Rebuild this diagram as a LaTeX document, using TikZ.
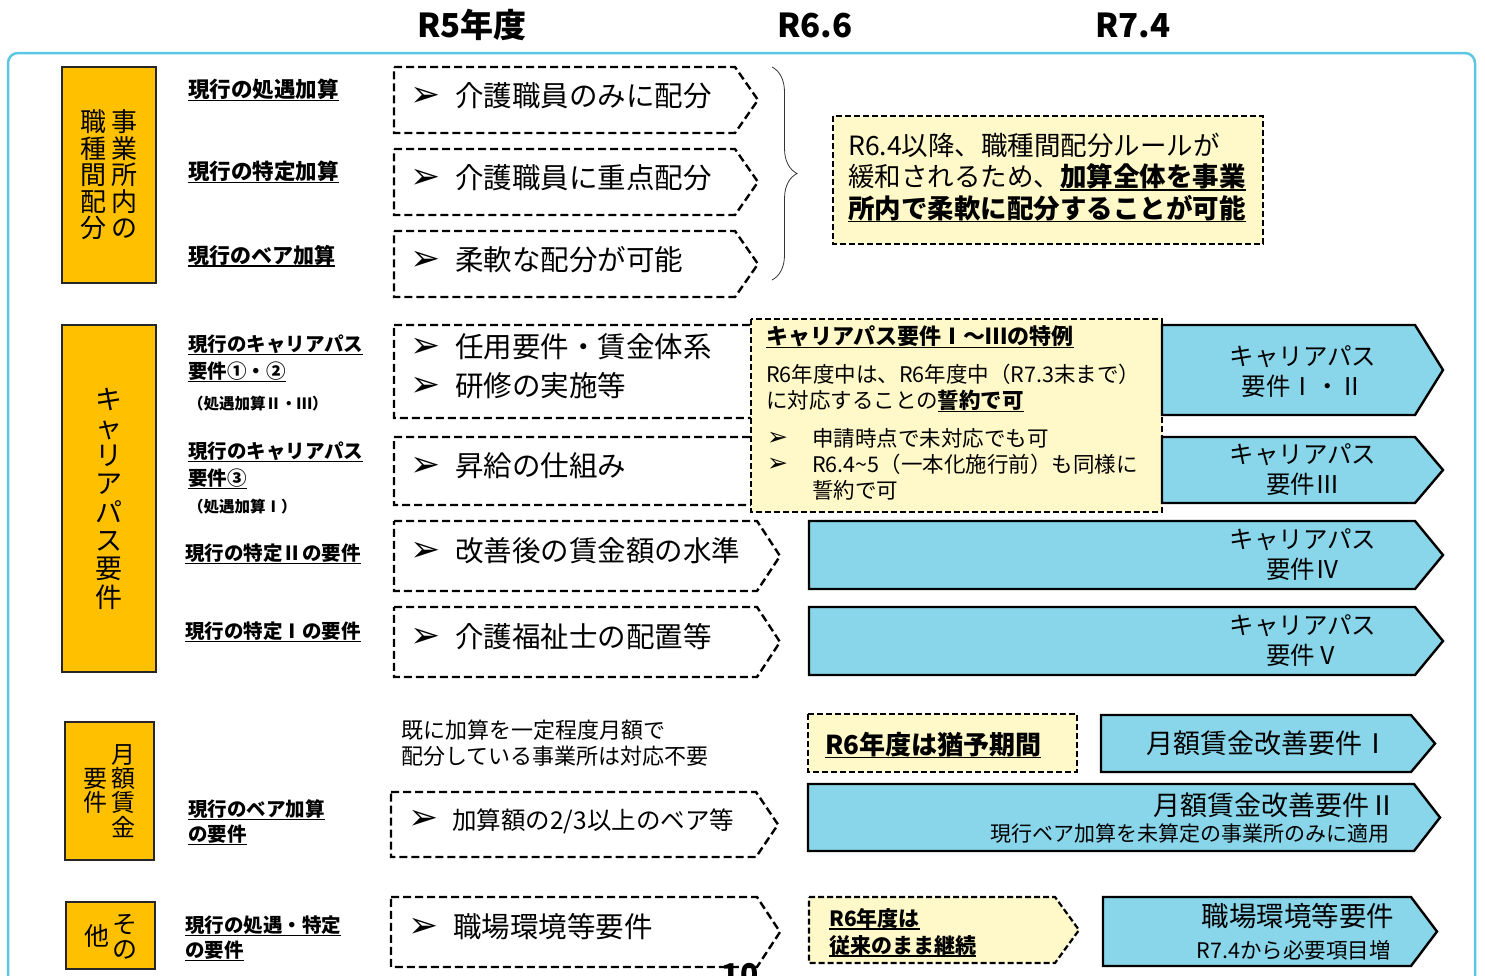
\documentclass[tikz,border=0pt]{standalone}
\usepackage{fontspec}
\setmainfont{Noto Sans CJK JP}
\newfontfamily\symfont{DejaVu Sans}
\usetikzlibrary{decorations.pathreplacing}

\definecolor{catorange}{HTML}{FFC000}
\definecolor{newblue}{HTML}{89D6EA}
\definecolor{noteyellow}{HTML}{FFF9C9}
\definecolor{framecyan}{HTML}{5BC7E4}

\newcommand{\setfs}[2]{\fontsize{#1}{#2}\selectfont}
\newsavebox\undlbox
\newcommand{\undl}[1]{\sbox\undlbox{#1}\rlap{\rule[-4pt]{\wd\undlbox}{1.6pt}}\usebox\undlbox}
\newcommand{\bul}[1]{\makebox[#1][l]{\raisebox{0pt}[0pt][0pt]{\symfont\fontsize{36}{36}\selectfont ➢}}}
\newcommand{\buls}{\makebox[45pt][l]{\raisebox{1pt}[0pt][0pt]{\symfont\fontsize{25}{25}\selectfont ➢}}}
% pentagon box: style, x1, y1, x2, y2, tip depth
\newcommand{\tagpath}[6]{\draw[#1] (#2,#3) -- ({#4-#6},#3) -- (#4,{(#3+#5)/2}) -- ({#4-#6},#5) -- (#2,#5) -- cycle;}

\tikzset{
	catbox/.style	= {draw = black!85, line width = 1.3pt, fill = catorange, inner sep = 0pt, align = center},
	oldlbl/.style	= {anchor = west, align = left, inner sep = 0pt, font = \bfseries\setfs{19.5}{27}},
	oldshape/.style	= {draw = black, line width = 2.4pt, dash pattern = on 8pt off 4pt, fill = white},
	newshape/.style	= {draw = black, line width = 2.4pt, fill = newblue},
	noteshape/.style	= {draw = black, line width = 2.2pt, dash pattern = on 6pt off 3pt, fill = noteyellow},
	bodytxt/.style	= {anchor = west, align = left, inner sep = 0pt},
	newtxt/.style	= {align = center, inner sep = 0pt},
	headtxt/.style	= {inner sep = 0pt, font = \bfseries\setfs{33}{36}},
}

\begin{document}
\begin{tikzpicture}[x=1pt, y=-1pt]
	\useasboundingbox (0,0) rectangle (1485,975);

	% column heads
	\node (hR5)  at ( 472, 25)	[headtxt]	{R5年度};
	\node (hR66) at ( 815, 25)	[headtxt]	{R6.6};
	\node (hR74) at (1133, 25)	[headtxt]	{R7.4};

	\draw[framecyan, line width = 2.5pt, rounded corners = 10pt] (8,53) rectangle (1475,1015);

	% categories
	\node (cat1) at (109, 175)	[catbox, minimum width = 94, minimum height = 216, font = \setfs{26}{26.5}]	{職\hspace{6pt}事\\種\hspace{6pt}業\\間\hspace{6pt}所\\配\hspace{6pt}内\\分\hspace{6pt}の};
	\node (cat2) at (109, 498.5)	[catbox, minimum width = 94, minimum height = 347, font = \setfs{27}{28.3}]	{キ\\ャ\\リ\\ア\\パ\\ス\\要\\件};
	\node (cat3) at (109.5, 791)	[catbox, minimum width = 89, minimum height = 138, font = \setfs{24}{24.3}]	{\phantom{要}\hspace{4pt}月\\要\hspace{4pt}額\\件\hspace{4pt}賃\\\phantom{要}\hspace{4pt}金};
	\node (cat4) at (110.5, 935.5)	[catbox, minimum width = 89, minimum height = 67, font = \setfs{25}{25}]	{\phantom{他}\hspace{3pt}そ\\\raisebox{12.5pt}[0pt][0pt]{他}\hspace{3pt}の};

	% current additions
	\node (lblShogu)   at (188, 90)	[oldlbl, font = \bfseries\setfs{21.5}{27}]	{\undl{現行の処遇加算}};
	\node (lblTokutei) at (188, 172)	[oldlbl, font = \bfseries\setfs{21.5}{27}]	{\undl{現行の特定加算}};
	\node (lblBase)    at (188, 256)	[oldlbl, font = \bfseries\setfs{21}{27}]	{\undl{現行のベア加算}};
	\node (lblCp12)    at (188, 358.5)	[oldlbl]	{\undl{現行のキャリアパス}\\\undl{要件①・②}};
	\node (lblCp12s)   at (188, 404)	[oldlbl, font = \bfseries\setfs{15.5}{18}]	{（処遇加算Ⅱ・Ⅲ）};
	\node (lblCp3)     at (188, 465.5)	[oldlbl]	{\undl{現行のキャリアパス}\\\undl{要件③}};
	\node (lblCp3s)    at (188, 507)	[oldlbl, font = \bfseries\setfs{15.5}{18}]	{（処遇加算Ⅰ）};
	\node (lblTok2)    at (185, 554)	[oldlbl]	{\undl{現行の特定Ⅱの要件}};
	\node (lblTok1)    at (185, 632)	[oldlbl]	{\undl{現行の特定Ⅰの要件}};
	\node (lblBaseReq) at (188, 822.5)	[oldlbl, font = \bfseries\setfs{19.5}{25}]	{\undl{現行のベア加算}\\\undl{の要件}};
	\node (lblOther)   at (185, 938.5)	[oldlbl, font = \bfseries\setfs{19.5}{25}]	{\undl{現行の処遇・特定}\\\undl{の要件}};

	% R5 requirements
	\tagpath{oldshape}{394}{67}{758}{133}{23}
	\tagpath{oldshape}{394}{149}{758}{215}{23}
	\tagpath{oldshape}{394}{231}{758}{297}{23}
	\tagpath{oldshape}{394}{325}{780}{418}{23}
	\tagpath{oldshape}{394}{437}{780}{505}{23}
	\tagpath{oldshape}{394}{521}{780}{591}{23}
	\tagpath{oldshape}{394}{607}{780}{677}{23}
	\tagpath{oldshape}{391}{792}{778}{857}{22}
	\tagpath{oldshape}{391}{897}{780}{967}{23}
	\node (oldKaigo)   at (410, 96)	[bodytxt, font = \setfs{28.5}{34}]	{\bul{45pt}介護職員のみに配分};
	\node (oldJuten)   at (410, 178)	[bodytxt, font = \setfs{28.5}{34}]	{\bul{45pt}介護職員に重点配分};
	\node (oldJunan)   at (410, 260)	[bodytxt, font = \setfs{28.5}{34}]	{\bul{45pt}柔軟な配分が可能};
	\node (oldNinyo)   at (410, 366.5)	[bodytxt, font = \setfs{28.5}{39}]	{\bul{45pt}任用要件・賃金体系\\\bul{45pt}研修の実施等};
	\node (oldShokyu)  at (410, 466)	[bodytxt, font = \setfs{28.5}{34}]	{\bul{45pt}昇給の仕組み};
	\node (oldChingin) at (410, 551)	[bodytxt, font = \setfs{28.5}{34}]	{\bul{45pt}改善後の賃金額の水準};
	\node (oldFukushi) at (410, 637)	[bodytxt, font = \setfs{28.5}{34}]	{\bul{45pt}介護福祉士の配置等};
	\node (oldBase)    at (408, 821)	[bodytxt, font = \setfs{24.5}{30}]	{\bul{44pt}加算額の2/3以上のベア等};
	\node (oldEnv)     at (408, 927)	[bodytxt, font = \setfs{28.5}{34}]	{\bul{45pt}職場環境等要件};

	\draw[black!80, line width = 0.8pt, decorate, decoration = {brace, amplitude = 25pt}] (772,67) -- (772,280);

	% notes
	\draw[noteshape] (833,116) rectangle (1263,244);
	\node (noteFlex) at (848, 177.5)	[bodytxt, font = \setfs{26.5}{31.5}]	{R6.4以降、職種間配分ルールが\\緩和されるため、\textbf{\undl{加算全体を事業}}\\\textbf{\undl{所内で柔軟に配分することが可能}}};

	\draw[noteshape] (751,319) rectangle (1162,512);
	\node (noteCpTitle) at (766, 337)	[bodytxt, font = \bfseries\setfs{22}{26}]	{\undl{キャリアパス要件Ⅰ～Ⅲの特例}};
	\node (noteCpBody)  at (766, 388)	[bodytxt, font = \setfs{21.5}{26}]	{R6年度中は、R6年度中（R7.3末まで）\\に対応することの\textbf{\undl{誓約で可}}};
	\node (noteCpList)  at (767, 464)	[bodytxt, font = \setfs{21.5}{26}]	{\buls 申請時点で未対応でも可\\\buls R6.4\textasciitilde 5（一本化施行前）も同様に\\\hspace{45pt}誓約で可};

	% new requirements
	\tagpath{newshape}{1162}{325}{1443}{415}{28}
	\tagpath{newshape}{1162}{437}{1443}{503}{28}
	\tagpath{newshape}{809}{521}{1443}{589}{28}
	\tagpath{newshape}{809}{607}{1443}{675}{28}
	\node (newCp12) at (1303, 372)	[newtxt, font = \setfs{24.5}{30}]	{キャリアパス\\要件Ⅰ・Ⅱ};
	\node (newCp3)  at (1303, 470)	[newtxt, font = \setfs{24.5}{30}]	{キャリアパス\\要件Ⅲ};
	\node (newCp4)  at (1303, 555)	[newtxt, font = \setfs{24.5}{30}]	{キャリアパス\\要件Ⅳ};
	\node (newCp5)  at (1303, 641)	[newtxt, font = \setfs{24.5}{30}]	{キャリアパス\\要件Ⅴ};

	\node (noteExempt) at (401, 743)	[bodytxt, font = \setfs{22}{26}]	{既に加算を一定程度月額で\\配分している事業所は対応不要};
	\draw[noteshape] (808,714) rectangle (1077,772);
	\node (noteGrace) at (825, 745)	[bodytxt, font = \bfseries\setfs{26}{30}]	{\undl{R6年度は猶予期間}};
	\tagpath{newshape}{1101}{715}{1435}{772}{24}
	\node (newMonthly1) at (1268, 743)	[newtxt, font = \setfs{27}{30}]	{月額賃金改善要件Ⅰ};
	\tagpath{newshape}{808}{784}{1440}{851}{26}
	\node (newMonthly2)  at (1397, 805)	[anchor = east, inner sep = 0pt, font = \setfs{27}{30}]	{月額賃金改善要件Ⅱ};
	\node (newMonthly2s) at (1390, 834)	[anchor = east, inner sep = 0pt, font = \setfs{21}{24}]	{現行ベア加算を未算定の事業所のみに適用};

	\tagpath{noteshape}{809}{897}{1079}{963}{24}
	\node (noteKeep) at (829, 932.5)	[bodytxt, font = \bfseries\setfs{21}{27}]	{\undl{R6年度は}\\\undl{従来のまま継続}};
	\tagpath{newshape}{1103}{897}{1437}{966}{26}
	\node (newEnv)  at (1298, 916)	[newtxt, font = \setfs{27.5}{30}]	{職場環境等要件};
	\node (newEnvs) at (1293.5, 950)	[newtxt, font = \setfs{21.5}{24}]	{R7.4から必要項目増};

	\node (pageNo) at (740, 985)	[anchor = base, inner sep = 0pt, font = \bfseries\setfs{30}{30}]	{10};
\end{tikzpicture}
\end{document}
